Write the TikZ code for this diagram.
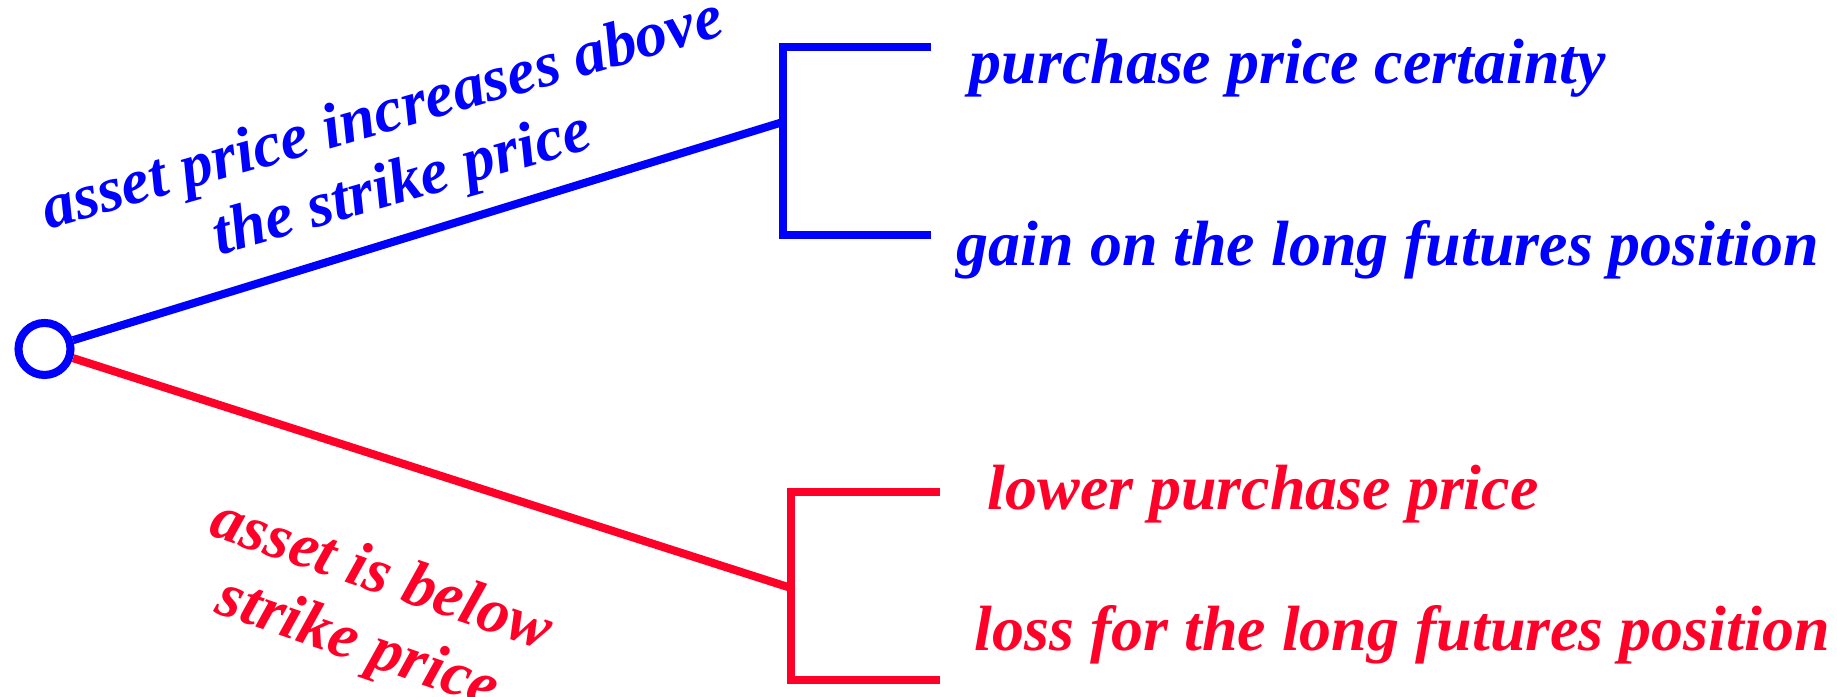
\documentclass[tikz,border=0pt]{standalone}
\usepackage{fontspec}
\setmainfont{Liberation Serif}
\definecolor{upblue}{RGB}{0,0,255}
\definecolor{downred}{RGB}{255,0,40}
\tikzset{
	branch/.style={line width=2.3pt},
	lbl/.style={inner sep=0pt, font=\fontsize{18.2}{20.5}\selectfont\bfseries\itshape},
	leaf/.style={lbl, anchor=base west}
}
\begin{document}
\begin{tikzpicture}[scale=1]
	\useasboundingbox (0,0) rectangle (18.37,6.97);

	% decision point
	\node[draw=upblue, branch, circle, minimum size=0.52cm, inner sep=0pt] (root) at (0.445,3.48) {};

	% upper branch
	\coordinate (upmid) at (7.83,5.75);
	\coordinate (uptop) at (7.83,6.50);
	\coordinate (upbot) at (7.83,4.62);
	\coordinate (uptopend) at (9.31,6.50);
	\coordinate (upbotend) at (9.31,4.62);
	\draw[branch, upblue] (root) -- (upmid);
	\draw[branch, upblue] (uptopend) -- (uptop) -- (upbot) -- (upbotend);
	\node[lbl, upblue, rotate=16, align=center] (uplbl) at (3.93,5.45) {asset price increases above\\the strike price};
	\node[leaf, upblue] (certain) at (9.69,6.13) {purchase price certainty};
	\node[leaf, upblue] (gain) at (9.56,4.31) {gain on the long futures position};

	% lower branch
	\coordinate (downmid) at (7.91,1.09);
	\coordinate (downtop) at (7.91,2.05);
	\coordinate (downbot) at (7.91,0.17);
	\coordinate (downtopend) at (9.40,2.05);
	\coordinate (downbotend) at (9.40,0.17);
	\draw[branch, downred] (root) -- (downmid);
	\draw[branch, downred] (downtopend) -- (downtop) -- (downbot) -- (downbotend);
	\node[lbl, downred, rotate=-19, align=center] (downlbl) at (3.69,0.85) {asset is below\\strike price};
	\node[leaf, downred] (lower) at (9.87,1.87) {lower purchase price};
	\node[leaf, downred] (loss) at (9.74,0.46) {loss for the long futures position};

\end{tikzpicture}
\end{document}
